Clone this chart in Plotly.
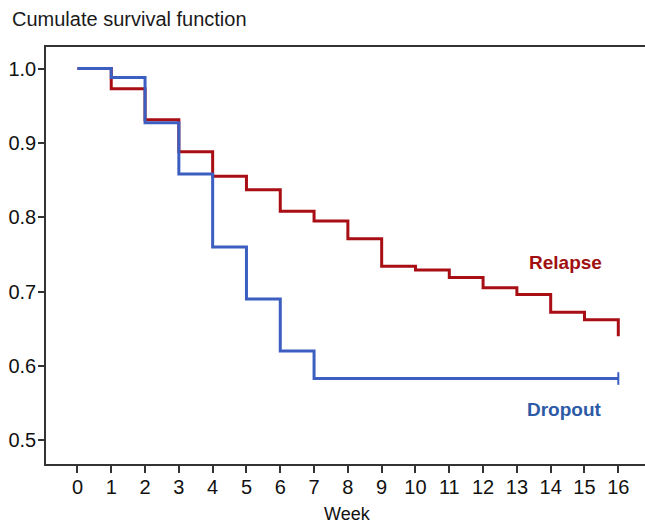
import plotly.graph_objects as go

# ---- data ----
weeks = list(range(0, 17))
relapse_x = [0, 1, 2, 3, 4, 5, 6, 7, 8, 9, 10, 11, 12, 13, 14, 15, 16, 16]
relapse_y = [1.0, 0.973, 0.931, 0.888, 0.855, 0.837, 0.808, 0.795, 0.771,
             0.734, 0.729, 0.719, 0.705, 0.696, 0.672, 0.662, 0.662, 0.640]
dropout_x = [0, 1, 2, 3, 4, 5, 6, 7, 16]
dropout_y = [1.0, 0.988, 0.927, 0.858, 0.760, 0.690, 0.620, 0.583, 0.583]
censor_x = [16]
censor_y = [0.583]
ytick_vals = [0.5, 0.6, 0.7, 0.8, 0.9, 1.0]
ytick_text = ["0.5", "0.6", "0.7", "0.8", "0.9", "1.0"]

RED = "#A80E14"
BLUE = "#3B5EC0"
AXIS = "#333333"
FONT = "Liberation Sans, Arial, sans-serif"

fig = go.Figure()
fig.add_trace(go.Scatter(x=relapse_x, y=relapse_y, mode="lines", line_shape="hv",
                         line=dict(color=RED, width=3), showlegend=False, hoverinfo="skip"))
fig.add_trace(go.Scatter(x=dropout_x, y=dropout_y, mode="lines", line_shape="hv",
                         line=dict(color=BLUE, width=3), showlegend=False, hoverinfo="skip"))
fig.add_trace(go.Scatter(x=censor_x, y=censor_y, mode="markers",
                         marker=dict(symbol="line-ns", size=9, line=dict(color=BLUE, width=2)),
                         showlegend=False, hoverinfo="skip"))

fig.add_annotation(x=14.44, y=0.739, text="<b>Relapse</b>", showarrow=False,
                   font=dict(family=FONT, size=19, color="#A01010"))
fig.add_annotation(x=14.42, y=0.541, text="<b>Dropout</b>", showarrow=False,
                   font=dict(family=FONT, size=19, color="#2D5AA6"))
fig.add_annotation(x=8, xref="x", y=-0.121, yref="paper", text="Week", showarrow=False,
                   yanchor="middle", font=dict(family=FONT, size=18, color="#111111"))

xr = [-0.93, 16.79]
yr = [0.468, 1.029]

fig.update_layout(
    width=645, height=524,
    margin=dict(l=46, r=0, t=47, b=60, autoexpand=False),
    paper_bgcolor="white", plot_bgcolor="white",
    font=dict(family=FONT, color="#111111"),
    title=dict(text="Cumulate survival function", xref="container", yref="container",
               x=12 / 645, y=1 - 19 / 524, xanchor="left", yanchor="middle",
               pad=dict(l=0, r=0, t=0, b=0),
               font=dict(family=FONT, size=20, color="#1a1a1a")),
    xaxis=dict(range=xr, tickvals=weeks, ticktext=[str(w) for w in weeks],
               ticks="outside", ticklen=7, tickwidth=1.5, tickcolor=AXIS,
               ticklabelstandoff=-3,
               showline=True, linecolor=AXIS, linewidth=1.5, mirror=True,
               showgrid=False, zeroline=False, automargin=False,
               tickfont=dict(family=FONT, size=20, color="#111111")),
    xaxis2=dict(range=xr, tickvals=weeks, overlaying="x", anchor="y", side="bottom",
                ticks="inside", ticklen=6, tickwidth=1.5, tickcolor=AXIS, automargin=False,
                showticklabels=False, showline=False, showgrid=False, zeroline=False),
    yaxis=dict(range=yr, tickvals=ytick_vals, ticktext=ytick_text,
               ticks="outside", ticklen=6, tickwidth=1.5, tickcolor=AXIS,
               ticklabelstandoff=-2,
               showline=True, linecolor=AXIS, linewidth=1.5, mirror=False,
               showgrid=False, zeroline=False, automargin=False,
               tickfont=dict(family=FONT, size=20, color="#111111")),
    yaxis2=dict(range=yr, tickvals=ytick_vals, overlaying="y", anchor="x", side="left",
                ticks="inside", ticklen=6, tickwidth=1.5, tickcolor=AXIS, automargin=False,
                showticklabels=False, showline=False, showgrid=False, zeroline=False),
)

fig.write_html("out.html", config={"displayModeBar": False},
               post_script="document.body.style.margin='0';document.body.style.overflow='hidden';")
